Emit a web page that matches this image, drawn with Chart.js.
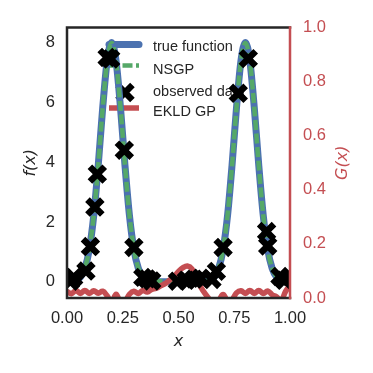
<!DOCTYPE html>
<html>
<head>
<meta charset="utf-8">
<script src="https://cdn.jsdelivr.net/npm/chart.js@4.4.1/dist/chart.umd.min.js"></script>
<style>
  html, body { margin: 0; padding: 0; background: #fff; }
</style>
</head>
<body>
<canvas id="chart" width="373" height="373"></canvas>
<script>
// sample grid shared by the three curves
const xGrid = [0.00, 0.02, 0.04, 0.06, 0.08, 0.10, 0.12, 0.14, 0.16, 0.18,
               0.20, 0.22, 0.24, 0.26, 0.28, 0.30, 0.32, 0.34, 0.36, 0.38,
               0.40, 0.42, 0.44, 0.46, 0.48, 0.50, 0.52, 0.54, 0.56, 0.58,
               0.60, 0.62, 0.64, 0.66, 0.68, 0.70, 0.72, 0.74, 0.76, 0.78,
               0.80, 0.82, 0.84, 0.86, 0.88, 0.90, 0.92, 0.94, 0.96, 0.98, 1.00];

// f(x), left axis
const trueF = [0.00, 0.01, 0.05, 0.16, 0.45, 1.08, 2.22, 3.89, 5.81, 7.38,
               8.00, 7.38, 5.81, 3.89, 2.22, 1.08, 0.45, 0.16, 0.05, 0.01,
               0.00, 0.00, 0.00, 0.00, 0.00, 0.00, 0.00, 0.00, 0.00, 0.00,
               0.00, 0.01, 0.05, 0.16, 0.45, 1.08, 2.22, 3.89, 5.81, 7.38,
               8.00, 7.38, 5.81, 3.89, 2.22, 1.08, 0.45, 0.16, 0.05, 0.01, 0.00];

const nsgpF = [0.02, 0.03, 0.06, 0.17, 0.46, 1.09, 2.22, 3.88, 5.80, 7.37,
               7.98, 7.37, 5.81, 3.90, 2.23, 1.09, 0.46, 0.17, 0.06, 0.03,
               0.02, 0.02, 0.02, 0.03, 0.03, 0.03, 0.03, 0.03, 0.02, 0.02,
               0.02, 0.03, 0.06, 0.17, 0.46, 1.09, 2.22, 3.88, 5.80, 7.37,
               7.98, 7.37, 5.80, 3.89, 2.22, 1.08, 0.46, 0.17, 0.06, 0.03, 0.02];

// G(x), right axis
const ekldG = [0.024, 0.016, 0.028, 0.017, 0.028, 0.017, 0.027, 0.018, 0.025, 0.008,
               -0.015, 0.014, -0.015, -0.012, 0.014, 0.025, 0.017, 0.028, 0.022, 0.032,
               0.036, 0.045, 0.053, 0.066, 0.080, 0.098, 0.112, 0.118, 0.108, 0.072,
               0.040, 0.015, -0.006, -0.025, -0.010, 0.013, -0.010, -0.006, 0.019, 0.027,
               0.017, 0.028, 0.017, 0.028, 0.017, 0.026, 0.012, 0.004, -0.008, 0.024, 0.048];

// observed data
const obsX = [0.015, 0.03, 0.085, 0.105, 0.125, 0.136, 0.18, 0.196, 0.257, 0.30,
              0.34, 0.36, 0.38, 0.495, 0.535, 0.57, 0.60, 0.65, 0.67, 0.70,
              0.768, 0.813, 0.895, 0.90, 0.955, 0.975];
const obsY = [0.02, 0.15, 0.36, 1.18, 2.5, 3.6, 7.5, 7.45, 4.4, 1.15,
              0.15, 0.1, 0.03, 0.02, 0.05, 0.09, 0.12, 0.08, 0.35, 1.15,
              6.3, 7.46, 1.68, 1.2, 0.18, 0.05];

const xTicks = [0, 0.25, 0.5, 0.75, 1];
const fTicks = [0, 2, 4, 6, 8];
const gTicks = [0, 0.2, 0.4, 0.6, 0.8, 1.0];

const blue = '#4c72b0', green = '#55a868', red = '#c44e52', ink = '#262626';
const sans = '"Liberation Sans", Arial, sans-serif';
const math = '"DejaVu Sans", sans-serif';

const pts = (xs, ys) => xs.map((x, i) => ({ x: x, y: ys[i] }));

// legend drawn under the data, no frame
const legendBox = {
  id: 'legendBox',
  beforeDatasetsDraw(chart) {
    const c = chart.ctx;
    const textY = [47.3, 69.5, 91.7, 111.7];
    const handleY = [44.5, 65.5, 92.5, 108];
    c.save();
    chart.data.datasets.forEach((ds, i) => {
      const y = handleY[i];
      if (ds.type === 'scatter') {
        c.strokeStyle = '#000';
        c.lineWidth = ds.pointBorderWidth;
        Chart.helpers.drawPoint(c, { pointStyle: 'crossRot', radius: ds.pointRadius, borderWidth: ds.pointBorderWidth, rotation: 0 }, 125, y);
      } else {
        c.beginPath();
        c.strokeStyle = ds.borderColor;
        c.lineWidth = ds.borderWidth;
        c.lineCap = ds.borderCapStyle || 'butt';
        c.setLineDash(ds.borderDash || []);
        c.moveTo(109, y);
        c.lineTo(139, y);
        c.stroke();
        c.setLineDash([]);
      }
      c.fillStyle = ink;
      c.font = '14.5px ' + sans;
      c.textBaseline = 'middle';
      c.textAlign = 'left';
      c.fillText(ds.label, 153, textY[i]);
    });
    c.restore();
  },
  afterDatasetsDraw(chart) {
    const c = chart.ctx, a = chart.chartArea;
    c.save();
    c.lineWidth = 2.5;
    c.lineCap = 'square';
    c.strokeStyle = ink;
    c.beginPath();
    c.moveTo(a.left, a.bottom);
    c.lineTo(a.left, a.top);
    c.lineTo(a.right, a.top);
    c.moveTo(a.left, a.bottom);
    c.lineTo(a.right, a.bottom);
    c.stroke();
    c.strokeStyle = red;
    c.beginPath();
    c.moveTo(a.right, a.top);
    c.lineTo(a.right, a.bottom);
    c.stroke();
    // right axis title, reading upwards like the left one
    c.translate(343, (a.top + a.bottom) / 2);
    c.rotate(-Math.PI / 2);
    c.fillStyle = red;
    c.font = 'italic 16px ' + math;
    c.textAlign = 'center';
    c.textBaseline = 'middle';
    c.fillText('G(x)', 0, 0);
    c.restore();
  }
};

new Chart(document.getElementById('chart').getContext('2d'), {
  type: 'line',
  data: {
    datasets: [
      {
        label: 'true function',
        data: pts(xGrid, trueF),
        borderColor: blue,
        borderWidth: 7,
        borderCapStyle: 'round',
        pointRadius: 0,
        cubicInterpolationMode: 'monotone',
        yAxisID: 'y',
        clip: 0,
        order: 3
      },
      {
        label: 'NSGP',
        data: pts(xGrid, nsgpF),
        borderColor: green,
        borderWidth: 4.5,
        borderDash: [10, 3.5],
        pointRadius: 0,
        cubicInterpolationMode: 'monotone',
        yAxisID: 'y',
        clip: 0,
        order: 2
      },
      {
        label: 'observed data',
        type: 'scatter',
        data: pts(obsX, obsY),
        pointStyle: 'crossRot',
        pointRadius: 10.5,
        pointBorderWidth: 6.5,
        pointBorderColor: '#000',
        pointBackgroundColor: '#000',
        showLine: false,
        yAxisID: 'y',
        clip: 0,
        order: 0
      },
      {
        label: 'EKLD GP',
        data: pts(xGrid, ekldG),
        borderColor: red,
        borderWidth: 5.5,
        pointRadius: 0,
        tension: 0.4,
        yAxisID: 'g',
        clip: 0,
        order: 1
      }
    ]
  },
  options: {
    responsive: false,
    animation: false,
    devicePixelRatio: 1,
    events: [],
    layout: { padding: { top: 27.5, left: 0, right: 0, bottom: 0 } },
    plugins: {
      legend: { display: false },
      tooltip: { enabled: false }
    },
    scales: {
      x: {
        type: 'linear',
        position: 'bottom',
        min: 0,
        max: 1,
        grid: { display: false, drawTicks: false },
        border: { display: false },
        ticks: {
          color: ink,
          font: { family: sans, size: 16.5 },
          padding: 11,
          autoSkip: false,
          maxRotation: 0,
          callback: v => Number(v).toFixed(2)
        },
        afterBuildTicks: s => { s.ticks = xTicks.map(v => ({ value: v })); },
        afterFit: s => { s.height = 75; },
        title: {
          display: true,
          text: 'x',
          color: ink,
          font: { family: math, size: 16, style: 'italic' },
          padding: { top: 0, bottom: 22 }
        }
      },
      y: {
        type: 'linear',
        position: 'left',
        min: -0.54,
        max: 8.5,
        grid: { display: false, drawTicks: false },
        border: { display: false },
        ticks: {
          color: ink,
          font: { family: sans, size: 16.5 },
          padding: 12,
          callback: v => String(v)
        },
        afterBuildTicks: s => { s.ticks = fTicks.map(v => ({ value: v })); },
        afterFit: s => { s.width = 67; },
        title: {
          display: true,
          text: 'f(x)',
          color: ink,
          font: { family: math, size: 16, style: 'italic' },
          padding: { top: 21, bottom: 0 }
        }
      },
      g: {
        type: 'linear',
        position: 'right',
        min: 0,
        max: 1,
        grid: { display: false, drawTicks: false },
        border: { display: false },
        ticks: {
          color: red,
          font: { family: sans, size: 16.5 },
          padding: 13,
          callback: v => Number(v).toFixed(1)
        },
        afterBuildTicks: s => { s.ticks = gTicks.map(v => ({ value: v })); },
        afterFit: s => { s.width = 83; }
      }
    }
  },
  plugins: [legendBox]
});
</script>
</body>
</html>
